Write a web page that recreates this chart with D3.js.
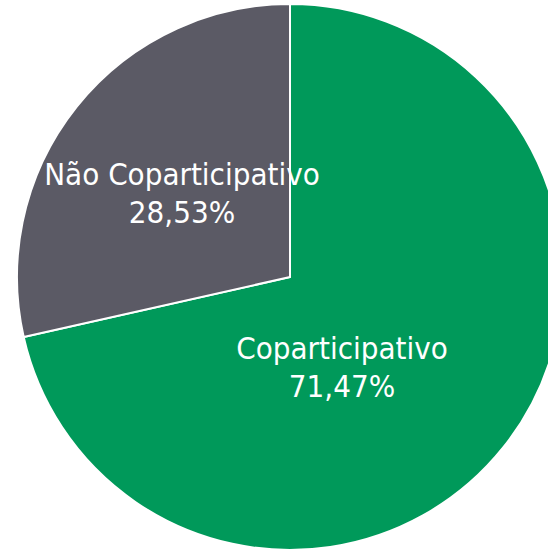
<!DOCTYPE html>
<html><head><meta charset="utf-8">
<script src="https://cdn.jsdelivr.net/npm/d3@7"></script>
<style>html,body{margin:0;padding:0;background:#fff;overflow:hidden}</style>
</head><body>
<svg id="c" width="548" height="553"></svg>
<script>
const categories = ["Coparticipativo", "Não Coparticipativo"];
const values = [71.47, 28.53];
const valueLabels = ["71,47%", "28,53%"];
const colors = ["#00995A", "#5B5A65"];

const svg = d3.select("#c");
const cx = 290, cy = 277, R = 273;
const g = svg.append("g").attr("transform", `translate(${cx},${cy})`);
const pie = d3.pie().sort(null).value(d => d)(values);
const arc = d3.arc().innerRadius(0).outerRadius(R);
g.selectAll("path").data(pie).join("path")
  .attr("d", arc).attr("fill", (d, i) => colors[i])
  .attr("stroke", "#fff").attr("stroke-width", 2).attr("stroke-linejoin", "round");

// label anchor points (Excel-style placement)
const labelArc = d3.arc().innerRadius(268).outerRadius(268);
const labelPos = [[52, 82], [-108, -92]];
const fs = 31;
const lab = g.selectAll("g.lab").data(pie).join("g").attr("class", "lab")
  .attr("transform", (d, i) => `translate(${labelPos[i][0]},${labelPos[i][1]})`);
lab.append("text").attr("text-anchor", "middle").attr("y", 0)
  .attr("font-family", "'DejaVu Sans Condensed', 'DejaVu Sans', sans-serif")
  .attr("font-size", fs).attr("fill", "#fff")
  .text((d, i) => categories[i]);
lab.append("text").attr("text-anchor", "middle").attr("y", 38)
  .attr("font-family", "'DejaVu Sans Condensed', 'DejaVu Sans', sans-serif")
  .attr("font-size", fs).attr("fill", "#fff")
  .text((d, i) => valueLabels[i]);
</script>
</body></html>
